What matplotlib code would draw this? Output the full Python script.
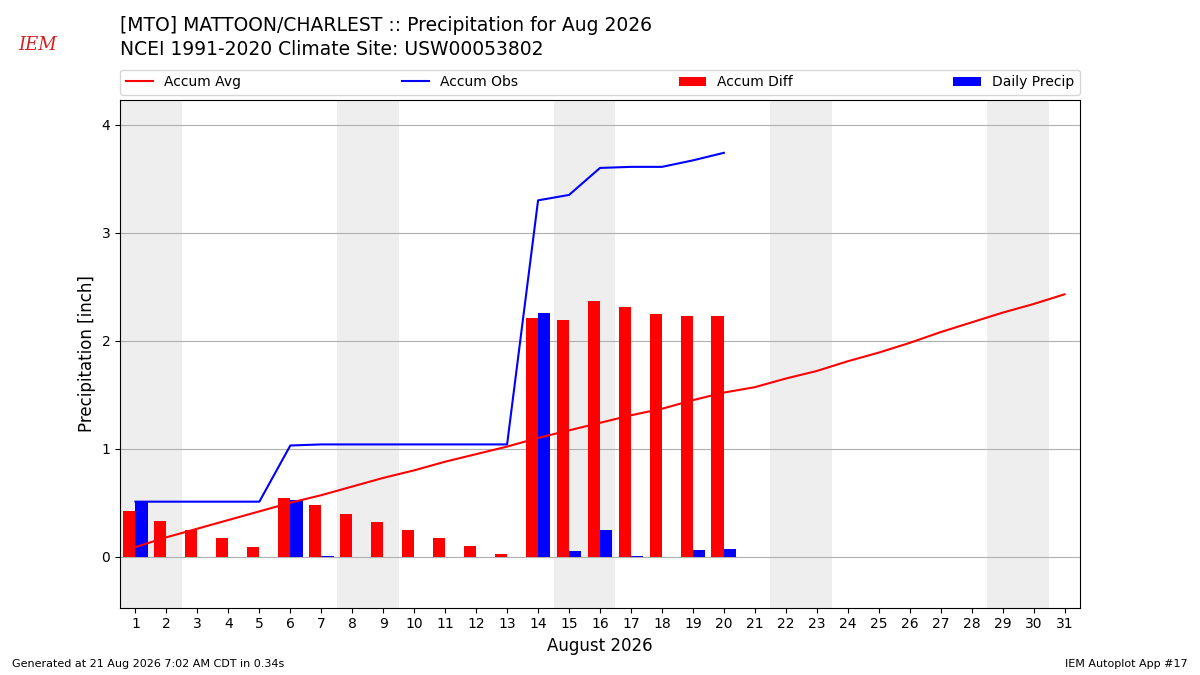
import numpy as np
import matplotlib
matplotlib.use("Agg")
import matplotlib.pyplot as plt

# Days of August 2026 and climate normal accumulation
days = np.arange(1, 32)
accum_avg = [0.09, 0.18, 0.26, 0.34, 0.42, 0.50, 0.57, 0.65, 0.73, 0.80,
             0.88, 0.95, 1.02, 1.10, 1.17, 1.24, 1.31, 1.37, 1.45, 1.52,
             1.57, 1.65, 1.72, 1.81, 1.89, 1.98, 2.08, 2.17, 2.26, 2.34, 2.43]

# Observed so far (through the 20th)
obs_days = np.arange(1, 21)
daily_precip = [0.51, 0.00, 0.00, 0.00, 0.00, 0.53, 0.01, 0.00, 0.00, 0.00,
                0.00, 0.00, 0.00, 2.26, 0.05, 0.25, 0.01, 0.00, 0.06, 0.07]
accum_obs = [0.51, 0.51, 0.51, 0.51, 0.51, 1.03, 1.04, 1.04, 1.04, 1.04,
             1.04, 1.04, 1.04, 3.30, 3.35, 3.60, 3.61, 3.61, 3.67, 3.74]
accum_diff = [0.42, 0.33, 0.25, 0.17, 0.09, 0.54, 0.48, 0.40, 0.32, 0.25,
              0.17, 0.10, 0.03, 2.21, 2.19, 2.37, 2.31, 2.25, 2.23, 2.23]

weekend_days = [1, 2, 8, 9, 15, 16, 22, 23, 29, 30]

fig = plt.figure(figsize=(12, 6.75), dpi=100)
ax = fig.add_axes([0.1, 0.1, 0.8, 0.752])

for d in weekend_days:
    ax.axvspan(d - 0.5, d + 0.5, color="#EEEEEE", lw=0, zorder=0)

ax.plot(days, accum_avg, color="r", lw=1.5, label="Accum Avg", zorder=3)
ax.plot(obs_days, accum_obs, color="b", lw=1.5, label="Accum Obs", zorder=3)
ax.bar(obs_days - 0.4, accum_diff, width=0.4, align="edge", color="r",
       label="Accum Diff", zorder=2)
ax.bar(obs_days, daily_precip, width=0.4, align="edge", color="b",
       label="Daily Precip", zorder=2)

ax.set_xlim(0.5, 31.5)
ax.set_ylim(-0.47, 4.23)
ax.set_xticks(days)
ax.set_yticks([0, 1, 2, 3, 4])
ax.tick_params(labelsize=10)
ax.grid(axis="y", color="#b0b0b0", lw=0.8)
ax.set_axisbelow(True)
ax.set_xlabel("August 2026", fontsize=12)
ax.set_ylabel("Precipitation [inch]", fontsize=12)

ax.legend(loc="lower left", bbox_to_anchor=(0, 1.01, 1, 0.05), ncol=4,
          mode="expand", borderaxespad=0, fontsize=10)

fig.text(0.1, 0.962, "[MTO] MATTOON/CHARLEST :: Precipitation for Aug 2026",
         fontsize=13.5, va="center")
fig.text(0.1, 0.927, "NCEI 1991-2020 Climate Site: USW00053802",
         fontsize=13.5, va="center")
fig.text(0.031, 0.933, "IEM", fontsize=13, color="#d42020", family="serif",
         style="italic", ha="center", va="center")

fig.text(0.01, 0.012, "Generated at 21 Aug 2026 7:02 AM CDT in 0.34s", fontsize=8)
fig.text(0.99, 0.012, "IEM Autoplot App #17", fontsize=8, ha="right")

fig.savefig("out.png", dpi=100)
